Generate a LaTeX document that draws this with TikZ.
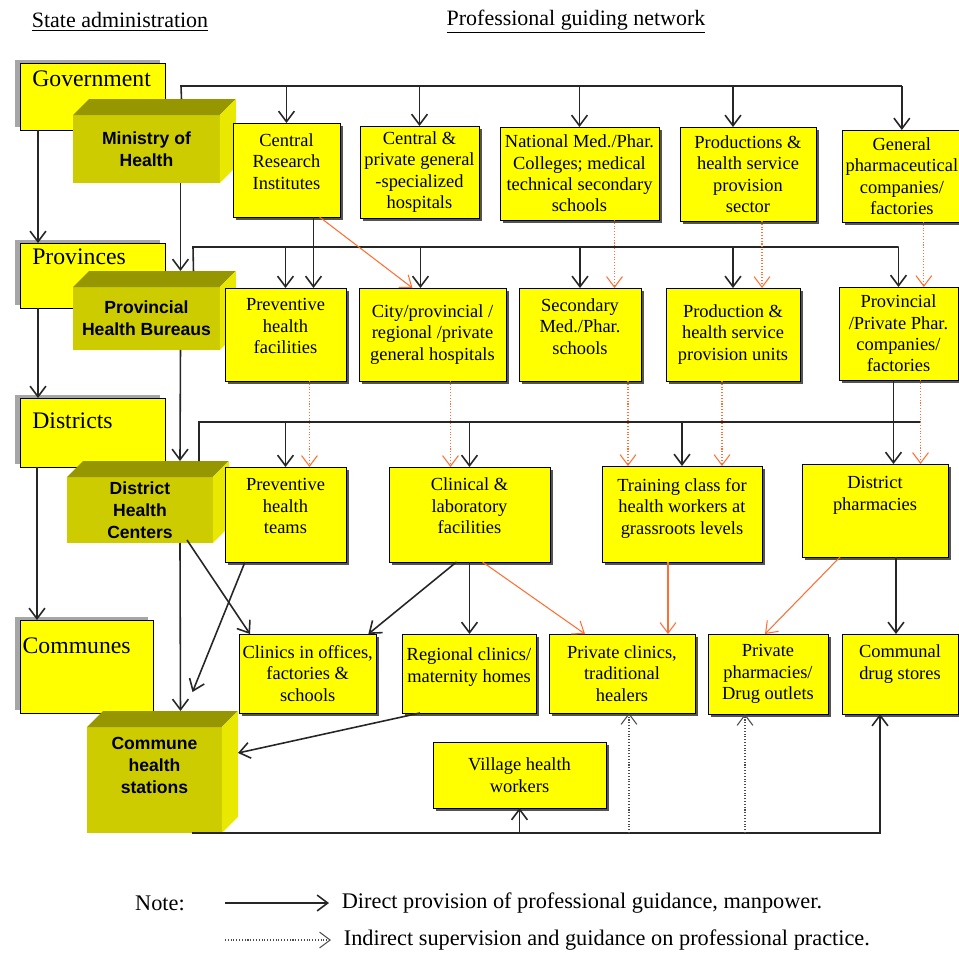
\documentclass[tikz,border=0pt]{standalone}
\usepackage{fontspec}
\setmainfont{Liberation Serif}
\setsansfont{Liberation Sans}
\usepackage{xcolor}
\usetikzlibrary{arrows.meta,shadows}

\definecolor{boxyellow}{RGB}{255,255,0}
\definecolor{cubeFront}{RGB}{204,204,0}
\definecolor{cubeTop}{RGB}{150,150,0}
\definecolor{cubeSide}{RGB}{232,232,0}
\definecolor{guideorange}{RGB}{255,110,50}

% top and side faces of a 3D box
\newcommand{\boxfaces}[1]{%
  \fill[cubeTop] (#1.north west) -- ++(16,-16) -- ([shift={(16,-16)}]#1.north east) -- (#1.north east) -- cycle;
  \fill[cubeSide] (#1.north east) -- ++(16,-16) -- ([shift={(16,-16)}]#1.south east) -- (#1.south east) -- cycle;
}

\begin{document}
\begin{tikzpicture}[
    x=0.02cm, y=-0.02cm,
    box/.style={draw, fill=boxyellow, anchor=north west, align=center, inner sep=2pt, outer sep=0pt,
        font=\fontsize{10.5}{12.2}\selectfont,
        drop shadow={shadow xshift=1.5pt, shadow yshift=-1.5pt, fill=black!75, opacity=0.9}},
    statebox/.style={draw, fill=boxyellow, anchor=north west, align=left, inner xsep=7pt, inner ysep=2pt, outer sep=0pt,
        font=\fontsize{13.5}{16}\selectfont,
        drop shadow={shadow xshift=-2.8pt, shadow yshift=1.8pt, fill=black!50, opacity=0.7}},
    cube/.style={fill=cubeFront, anchor=north west, align=center, inner sep=2pt, outer sep=0pt,
        font=\sffamily\bfseries\fontsize{10}{12.5}\selectfont},
    textdrop/.style={text depth=#1pt},
    head/.style={font=\fontsize{12.5}{15}\selectfont},
    legend/.style={font=\fontsize{12.7}{15}\selectfont},
    link/.style={draw=black!85, line width=0.9pt},
    arrow/.style={link, -{Straight Barb[length=6pt,width=9pt]}},
    orangearrow/.style={draw=guideorange, line width=0.6pt, -{Straight Barb[length=6pt,width=9pt]}},
    orangedots/.style={orangearrow, densely dotted},
    grayarrow/.style={draw=black!70, line width=0.6pt, densely dotted, -{Straight Barb[length=6pt,width=9pt]}}
]
\useasboundingbox (0,0) rectangle (959,954);

% Titres
\node[head] (statehead) at (120,22) {\underline{State administration}};
\node[head] (prohead) at (576,22) {\underline{Professional guiding network}};

% State administration
\node[statebox, text width=2.406cm, minimum height=1.34cm, textdrop=20.3] (gov) at (20,63) {Government};
\node[statebox, text width=2.406cm, minimum height=1.30cm, textdrop=21.5] (prov) at (20,243) {Provinces};
\node[statebox, text width=2.406cm, minimum height=1.38cm, textdrop=13.5] (dist) at (20,398) {Districts};
\node[statebox, inner xsep=1.5pt, text width=2.554cm, minimum height=1.86cm, textdrop=23.7] (comm) at (20,620) {Communes};

% Health authorities (3D)
\node[cube, minimum width=2.94cm, minimum height=1.36cm] (moh) at (73,115) {Ministry of\\Health};
\boxfaces{moh}
\node[cube, minimum width=2.94cm, minimum height=1.26cm] (phb) at (73,287) {Provincial\\Health Bureaus};
\boxfaces{phb}
\node[cube, minimum width=2.92cm, minimum height=1.32cm] (dhc) at (67,477) {District\\Health\\Centers};
\boxfaces{dhc}
\node[cube, minimum width=2.70cm, minimum height=2.12cm, textdrop=16.3] (chs) at (87,727) {Commune\\health\\stations};
\boxfaces{chs}

% Central level
\node[box, minimum width=2.14cm, minimum height=1.88cm, textdrop=10] (cri) at (233,123) {Central\\Research\\Institutes};
\node[box, minimum width=2.38cm, minimum height=1.84cm] (hosp) at (360,126) {Central \&\\private general\\-specialized\\hospitals};
\node[box, minimum width=3.18cm, minimum height=1.86cm] (colleges) at (500,127) {National Med./Phar.\\Colleges; medical\\technical secondary\\schools};
\node[box, minimum width=2.72cm, minimum height=1.88cm] (prodsector) at (680,127) {Productions \&\\health service\\provision\\sector};
\node[box, minimum width=2.32cm, minimum height=1.84cm] (pharmco) at (842,130) {General\\pharmaceutical\\companies/\\factories};

% Provincial level
\node[box, minimum width=2.42cm, minimum height=1.86cm, textdrop=9.7] (prevfac) at (225,288) {Preventive\\health\\facilities};
\node[box, minimum width=2.94cm, minimum height=1.86cm] (cityhosp) at (359,288) {City/provincial /\\regional /private\\general hospitals};
\node[box, minimum width=2.44cm, minimum height=1.86cm, textdrop=9] (secschool) at (519,288) {Secondary\\Med./Phar.\\schools};
\node[box, minimum width=2.68cm, minimum height=1.86cm] (produnits) at (666,288) {Production \&\\health service\\provision units};
\node[box, minimum width=2.38cm, minimum height=1.86cm] (provphar) at (839,287) {Provincial\\/Private Phar.\\companies/\\factories};

% District level
\node[box, minimum width=2.42cm, minimum height=1.90cm, textdrop=9.7] (prevteam) at (225,467) {Preventive\\health\\teams};
\node[box, minimum width=3.22cm, minimum height=1.90cm, textdrop=9.7] (clinlab) at (389,467) {Clinical \&\\laboratory\\facilities};
\node[box, minimum width=3.20cm, minimum height=1.92cm, textdrop=9] (training) at (602,466) {Training class for\\health workers at\\grassroots levels};
\node[box, minimum width=2.92cm, minimum height=1.86cm, textdrop=19.7] (distphar) at (802,464) {District\\pharmacies};

% Commune level
\node[box, minimum width=2.72cm, minimum height=1.58cm] (clinoff) at (239,634) {Clinics in offices,\\factories \&\\schools};
\node[box, minimum width=2.68cm, minimum height=1.58cm, textdrop=9.5] (regclin) at (402,634) {Regional clinics/\\maternity homes};
\node[box, minimum width=2.92cm, minimum height=1.58cm] (privclin) at (549,634) {Private clinics,\\traditional\\healers};
\node[box, minimum width=2.40cm, minimum height=1.60cm] (privphar) at (708,634) {Private\\pharmacies/\\Drug outlets};
\node[box, minimum width=2.32cm, minimum height=1.60cm, textdrop=13.5] (drugstore) at (842,634) {Communal\\drug stores};
\node[box, minimum width=3.46cm, minimum height=1.32cm] (village) at (433,742) {Village health\\workers};

% Fleches administration
\draw[arrow] ([shift={(18,0)}]gov.south west) -- ([shift={(18,0)}]gov.south west |- prov.north);
\draw[arrow] ([shift={(18,0)}]prov.south west) -- ([shift={(18,0)}]prov.south west |- dist.north);
\draw[arrow] ([shift={(17,0)}]dist.south west) -- ([shift={(17,0)}]dist.south west |- comm.north);
\draw[arrow] ([shift={(34,0)}]moh.south) -- ([shift={(34,-16)}]phb.north);
\draw[arrow] ([shift={(34,0)}]phb.south) -- ([shift={(40,-16)}]dhc.north);
\draw[arrow] ([shift={(40,0)}]dhc.south) -- ([shift={(26,-16)}]chs.north);

% Niveau central
\coordinate (top bus) at (181,86);
\draw[link] ([shift={(35,-16)}]moh.north) -- (top bus) -- (top bus -| pharmco.north);
\foreach \n in {cri,hosp,colleges,pharmco}
    \draw[arrow] (top bus -| \n.north) -- (\n.north);
\draw[arrow] ([shift={(-15,0)}]prodsector.north |- top bus) -- ([shift={(-15,0)}]prodsector.north);

% Niveau provincial
\coordinate (prov bus) at (193,247);
\draw[link] ([shift={(47,-16)}]phb.north) -- (prov bus) -- (prov bus -| provphar.north);
\foreach \n in {prevfac,secschool,produnits,provphar}
    \draw[arrow] (prov bus -| \n.north) -- (\n.north);
\draw[arrow] ([shift={(-12,0)}]cityhosp.north |- prov bus) -- ([shift={(-12,0)}]cityhosp.north);
\draw[arrow] ([shift={(27,0)}]cri.south) -- ([shift={(27,0)}]cri.south |- prevfac.north);
\draw[orangearrow] ([shift={(33,0)}]cri.south) -- ([shift={(-20,0)}]cityhosp.north);
\draw[orangedots] ([shift={(35,0)}]colleges.south) -- ([shift={(35,0)}]colleges.south |- secschool.north);
\draw[orangedots] ([shift={(14,0)}]prodsector.south) -- ([shift={(14,0)}]prodsector.south |- produnits.north);
\draw[orangedots] ([shift={(22,0)}]pharmco.south) -- ([shift={(22,0)}]pharmco.south |- provphar.north);

% Niveau district
\coordinate (dist bus) at (199,422);
\draw[link] ([shift={(59,-16)}]dhc.north) -- (dist bus) -- ([shift={(22,0)}]provphar.south |- dist bus);
\foreach \n in {prevteam,clinlab,training}
    \draw[arrow] (dist bus -| \n.north) -- (\n.north);
\draw[arrow] ([shift={(-5,0)}]provphar.south) -- ([shift={(-5,0)}]provphar.south |- distphar.north);
\draw[orangedots] ([shift={(24,0)}]prevfac.south) -- ([shift={(24,0)}]prevfac.south |- prevteam.north);
\draw[orangedots] ([shift={(18,0)}]cityhosp.south) -- ([shift={(18,0)}]cityhosp.south |- clinlab.north);
\draw[orangedots] ([shift={(48,0)}]secschool.south) -- ([shift={(48,0)}]secschool.south |- training.north);
\draw[orangedots] ([shift={(-11,0)}]produnits.south) -- ([shift={(-11,0)}]produnits.south |- training.north);
\draw[orangedots] ([shift={(22,0)}]provphar.south) -- ([shift={(22,0)}]provphar.south |- distphar.north);

% Niveau commune
\draw[arrow] ([shift={(-26,-3)}]dhc.south east) -- ([shift={(11,0)}]clinoff.north west);
\draw[arrow] ([shift={(20,0)}]prevteam.south west) -- ([shift={(38,-35)}]chs.north);
\draw[arrow] ([shift={(-13,0)}]clinlab.south) -- ([shift={(-8,0)}]clinoff.north east);
\draw[arrow] (clinlab.south) -- (clinlab.south |- regclin.north);
\draw[orangearrow] ([shift={(13,0)}]clinlab.south) -- ([shift={(-37,0)}]privclin.north);
\draw[orangearrow] ([shift={(-14,0)}]training.south) -- ([shift={(-14,0)}]training.south |- privclin.north);
\draw[orangearrow] ([shift={(38,0)}]distphar.south west) -- ([shift={(-3,0)}]privphar.north);
\draw[arrow] ([shift={(21,0)}]distphar.south) -- ([shift={(21,0)}]distphar.south |- drugstore.north);
\draw[arrow] ([shift={(18,0)}]regclin.south west) -- ([shift={(16,-27)}]chs.east);

% Ligne du bas
\coordinate (low bus) at ([shift={(38,0)}]chs.south);
\draw[arrow] (low bus) -| ([shift={(-20,0)}]drugstore.south);
\draw[arrow] (low bus -| village.south) -- (village.south);
\draw[grayarrow] ([shift={(7,0)}]privclin.south |- low bus) -- ([shift={(7,0)}]privclin.south);
\draw[grayarrow] ([shift={(-23,0)}]privphar.south |- low bus) -- ([shift={(-23,0)}]privphar.south);

% Legende
\node[legend] (note) at (160,903) {Note:};
\coordinate (direct start) at (225,903);
\node[legend, anchor=west, inner xsep=0.25cm] (direct) at (329,903) {Direct provision of professional guidance, manpower.};
\draw[arrow] (direct start) -- (direct.west);
\coordinate (indirect start) at (225,940);
\node[legend, anchor=west, inner xsep=0.25cm] (indirect) at (331,940) {Indirect supervision and guidance on professional practice.};
\draw[grayarrow] (indirect start) -- (indirect.west);

\end{tikzpicture}
\end{document}
